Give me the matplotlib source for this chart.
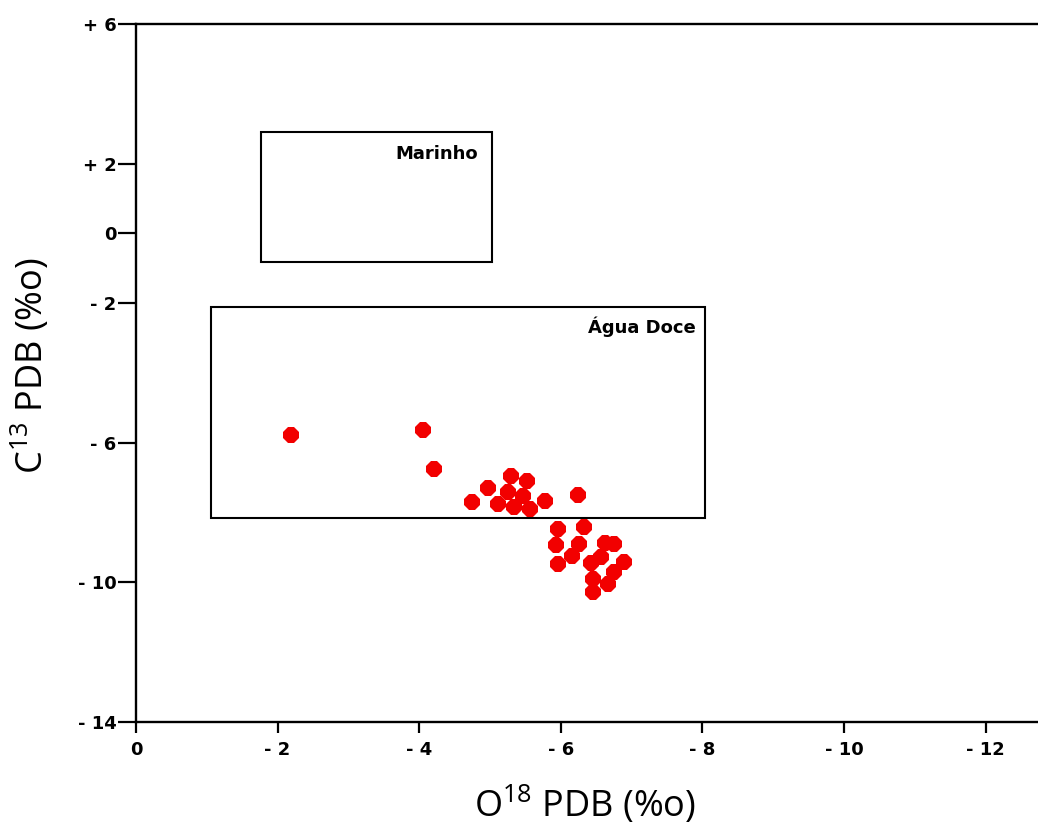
import matplotlib
matplotlib.use("Agg")
import matplotlib.pyplot as plt
from matplotlib.patches import Rectangle

# ---- data ----
o18 = [-2.19, -4.05, -4.21, -4.75, -4.97, -5.29, -5.52, -5.26, -5.47, -5.11,
       -5.34, -5.56, -5.78, -6.25, -5.96, -6.33, -5.93, -6.26, -6.62, -6.75,
       -6.16, -6.57, -6.43, -5.96, -6.89, -6.75, -6.46, -6.67, -6.46]
c13 = [-5.78, -5.63, -6.76, -7.70, -7.29, -6.94, -7.09, -7.40, -7.52, -7.75,
       -7.85, -7.90, -7.67, -7.50, -8.48, -8.40, -8.93, -8.91, -8.86, -8.91,
       -9.24, -9.28, -9.44, -9.48, -9.42, -9.71, -9.90, -10.05, -10.27]

x_ticks = [0, -2, -4, -6, -8, -10, -12]
x_tick_labels = ["0", "- 2", "- 4", "- 6", "- 8", "- 10", "- 12"]
y_ticks = [6, 2, 0, -2, -6, -10, -14]
y_tick_labels = ["+ 6", "+ 2", "0", "- 2", "- 6", "- 10", "- 14"]

# fields: (name, x_from, x_to, y_from, y_to)
field_names = ["Marinho", "Água Doce"]
field_x = [(-1.76, -5.03), (-1.06, -8.03)]
field_y = [(-0.82, 2.90), (-8.15, -2.11)]
label_xy = [(-4.83, 2.12), (-7.91, -2.85)]

plt.rcParams["mathtext.fontset"] = "custom"
plt.rcParams["mathtext.rm"] = "Open Sans"
plt.rcParams["mathtext.it"] = "Open Sans"
plt.rcParams["mathtext.default"] = "regular"

# ---- plot ----
fig = plt.figure(figsize=(10.38, 8.26), dpi=100)
ax = fig.add_axes([0.1310, 0.1259, 0.8690, 0.8450])

ax.set_xlim(0, -12.74)
ax.set_ylim(-14, 6)

for (x0, x1), (y0, y1) in zip(field_x, field_y):
    ax.add_patch(Rectangle((x0, y0), x1 - x0, y1 - y0, fill=False,
                           edgecolor="black", linewidth=1.5, zorder=1))
for name, (tx, ty) in zip(field_names, label_xy):
    ax.text(tx, ty, name, ha="right", va="baseline", fontsize=13,
            fontweight="bold", family="DejaVu Sans", zorder=2)

ax.plot(o18, c13, linestyle="none", marker="8", markersize=12.5,
        color="#f20000", markeredgewidth=0, zorder=3)

ax.set_xticks(x_ticks)
ax.set_xticklabels(x_tick_labels)
ax.set_yticks(y_ticks)
ax.set_yticklabels(y_tick_labels)
for lab in ax.get_xticklabels() + ax.get_yticklabels():
    lab.set_fontweight("bold")
    lab.set_fontsize(13)
    lab.set_family("DejaVu Sans")

ax.tick_params(axis="y", direction="out", length=13, width=1.6, pad=1)
ax.tick_params(axis="x", direction="out", length=8, width=1.6, pad=6)

for side in ["left", "bottom", "top"]:
    ax.spines[side].set_linewidth(1.7)
ax.spines["right"].set_visible(False)

fig.text(585 / 1038, 0.011, "O$^{18}$ PDB (%o)", ha="center", va="baseline",
         fontsize=26, family="Open Sans")
fig.text(43 / 1038, (826 - 366) / 826, "C$^{13}$ PDB (%o)", ha="center",
         va="baseline", rotation=90, rotation_mode="anchor", fontsize=26,
         family="Open Sans")

fig.savefig("out.png", dpi=100)
